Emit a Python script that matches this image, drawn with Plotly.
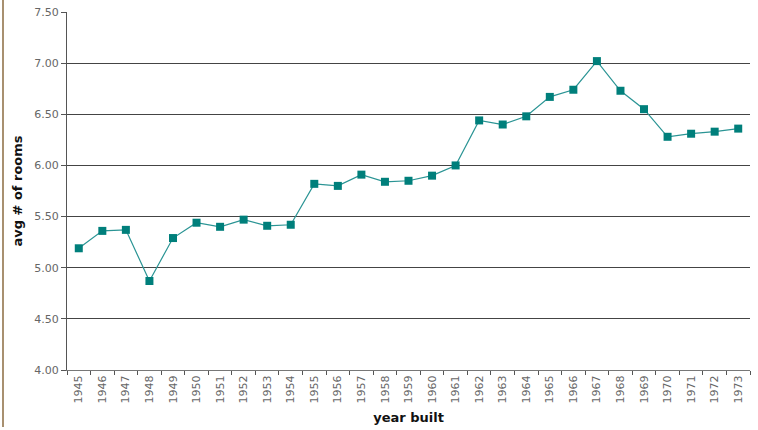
import plotly.graph_objects as go

years = [str(y) for y in range(1945, 1974)]
avg_rooms = [5.19, 5.36, 5.37, 4.87, 5.29, 5.44, 5.40, 5.47, 5.41, 5.42,
             5.82, 5.80, 5.91, 5.84, 5.85, 5.90, 6.00, 6.44, 6.40, 6.48,
             6.67, 6.74, 7.02, 6.73, 6.55, 6.28, 6.31, 6.33, 6.36]
y_ticks = [4.0, 4.5, 5.0, 5.5, 6.0, 6.5, 7.0, 7.5]

W, H = 758, 430
ml, mr, mt, mb = 67, 8, 12, 60
pw, ph = W - ml - mr, H - mt - mb

fig = go.Figure()
fig.add_trace(go.Scatter(
    x=years, y=avg_rooms, mode="lines+markers",
    line=dict(color="#2a9494", width=1.2),
    marker=dict(symbol="square", size=8, color="#007f7b"),
    showlegend=False,
))

tick_font = "DejaVu Sans, sans-serif"
fig.update_layout(
    width=W, height=H,
    margin=dict(l=ml, r=mr, t=mt, b=mb, autoexpand=False),
    paper_bgcolor="white", plot_bgcolor="white",
    font=dict(family=tick_font),
    xaxis=dict(
        type="category", tickson="boundaries", ticks="outside", ticklen=4,
        tickcolor="#555", showline=True, linecolor="#777", linewidth=1,
        showgrid=False, tickangle=-90, range=[-0.5, 28.5], automargin=False,
        tickfont=dict(size=11, color="#666", family=tick_font),
        title=dict(text="<b>year built</b>", font=dict(size=13, color="#111", family=tick_font), standoff=10),
    ),
    yaxis=dict(
        range=[4.0, 7.5], tickvals=y_ticks, tickformat=".2f", automargin=False,
        ticks="outside", ticklen=5, tickcolor="#555",
        showline=True, linecolor="#555", linewidth=1,
        showgrid=True, gridcolor="#444", gridwidth=1,
        tickfont=dict(size=11, color="#666", family=tick_font),
        title=dict(text="<b>avg # of rooms</b>", font=dict(size=13, color="#111", family=tick_font), standoff=8),
        zeroline=False,
    ),
)

# tan frame border on the left edge
x_border = (3 - ml) / pw
fig.add_shape(type="line", xref="paper", yref="paper",
              x0=x_border, x1=x_border, y0=-(mb - 3) / ph, y1=1 + mt / ph,
              line=dict(color="#a89070", width=2))

fig.write_html("out.html", config={"displayModeBar": False},
               post_script="document.body.style.margin='0';document.body.style.overflow='hidden';")
